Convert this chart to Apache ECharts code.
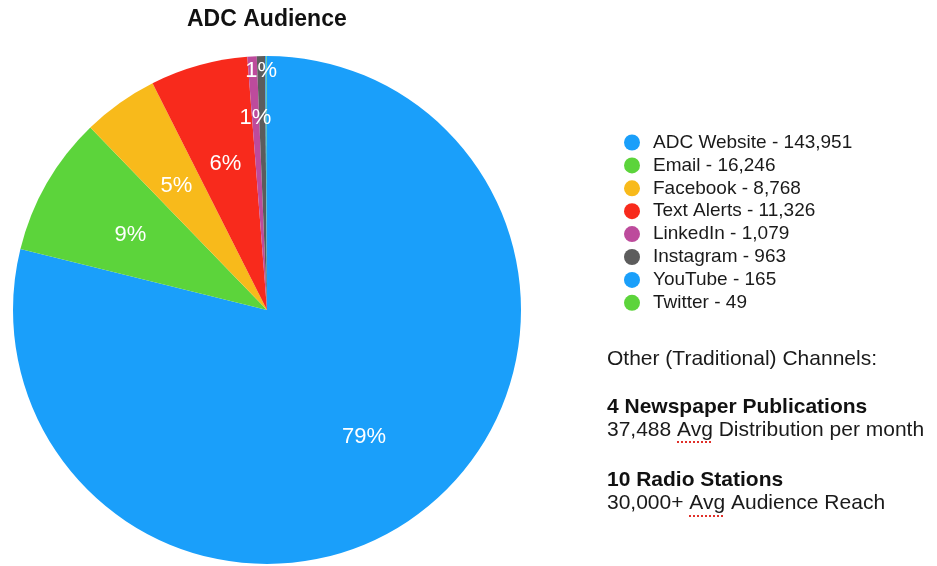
<!DOCTYPE html>
<html>
<head>
<meta charset="utf-8">
<script src="https://cdn.jsdelivr.net/npm/echarts@6/dist/echarts.min.js"></script>
<style>
  html, body { margin: 0; padding: 0; background: #ffffff; }
  #chart { width: 937px; height: 566px; }
</style>
</head>
<body>
<div id="chart"></div>
<script>
// Audience by channel
const channels = ['ADC Website', 'Email', 'Facebook', 'Text Alerts', 'LinkedIn', 'Instagram', 'YouTube', 'Twitter'];
const audience = [143951, 16246, 8768, 11326, 1079, 963, 165, 49];

// Slice colours, one per channel
const sliceColors = ['#1A9FFA', '#5CD43B', '#F8BA1B', '#F82A1C', '#BD4B9C', '#5C5C5C', '#1A9FFA', '#5CD43B'];

// Traditional channels notes
const otherHeading = 'Other (Traditional) Channels:';
const otherItems = [
  { title: '4 Newspaper Publications', detail: '37,488 Avg Distribution per month' },
  { title: '10 Radio Stations', detail: '30,000+ Avg Audience Reach' }
];

// Pie geometry and label ring (fraction of radius where each percentage sits)
const pieCenter = [267, 310];
const pieRadius = 254;
const labelRing = [0.62, 0.62, 0.615, 0.61, 0.77, 0.955, 0.62, 0.62];
const labelDrop = 3;

const total = audience.reduce((a, b) => a + b, 0);
const fmt = n => n.toLocaleString('en-US');
const FONT = '"Liberation Sans", Arial, Helvetica, sans-serif';

// Mid angle (radians, clockwise from 12 o'clock) of each slice
const midAngles = [];
(function () {
  let acc = 0;
  audience.forEach(v => {
    midAngles.push(((acc + v / 2) / total) * Math.PI * 2);
    acc += v;
  });
})();

const chart = echarts.init(document.getElementById('chart'), null, { renderer: 'canvas' });

const graphics = [];
graphics.push({
  type: 'text', left: 607, top: 349,
  style: { text: otherHeading, font: '21px ' + FONT, fill: '#1a1a1a' }
});
const blockTops = [397, 470];
otherItems.forEach((it, i) => {
  graphics.push({
    type: 'text', left: 607, top: blockTops[i],
    style: { text: it.title, font: 'bold 21px ' + FONT, fill: '#111111' }
  });
  graphics.push({
    type: 'text', left: 607, top: blockTops[i] + 23,
    style: { text: it.detail, font: '21px ' + FONT, fill: '#1a1a1a' }
  });
});
// spell-check style dotted underlines beneath "Avg"
[[677, 712, 442], [689, 724, 516]].forEach(([x1, x2, y]) => {
  graphics.push({
    type: 'line',
    shape: { x1: x1, y1: y, x2: x2, y2: y },
    style: { stroke: '#E0302A', lineWidth: 2, lineDash: [2, 2] }
  });
});

chart.setOption({
  animation: false,
  backgroundColor: '#ffffff',
  title: {
    text: 'ADC Audience',
    left: 187,
    top: 8,
    padding: 0,
    textStyle: { fontFamily: FONT, fontWeight: 'bold', fontSize: 23, color: '#111111' }
  },
  legend: {
    orient: 'vertical',
    left: 624,
    top: 133,
    padding: 0,
    icon: 'circle',
    itemWidth: 16,
    itemHeight: 16,
    itemGap: 3.9,
    selectedMode: false,
    data: channels,
    formatter: name => name + ' - ' + fmt(audience[channels.indexOf(name)]),
    textStyle: { fontFamily: FONT, fontSize: 19, color: '#1a1a1a', padding: [0, 0, 0, 8] }
  },
  graphic: graphics,
  series: [{
    type: 'pie',
    center: pieCenter,
    radius: [0, pieRadius],
    startAngle: 90,
    clockwise: true,
    silent: true,
    itemStyle: { borderWidth: 0 },
    emphasis: { disabled: true },
    label: {
      show: true,
      position: 'inside',
      color: '#ffffff',
      fontFamily: FONT,
      fontSize: 22,
      formatter: p => {
        const pct = Math.round(p.value / total * 100);
        return pct > 0 ? pct + '%' : '';
      }
    },
    labelLine: { show: false },
    labelLayout: p => {
      const i = p.dataIndex;
      const r = pieRadius * labelRing[i];
      return {
        x: pieCenter[0] + r * Math.sin(midAngles[i]),
        y: pieCenter[1] - r * Math.cos(midAngles[i]) + labelDrop,
        align: 'center',
        verticalAlign: 'middle'
      };
    },
    data: channels.map((name, i) => ({
      name: name,
      value: audience[i],
      itemStyle: { color: sliceColors[i] }
    }))
  }]
});
</script>
</body>
</html>
